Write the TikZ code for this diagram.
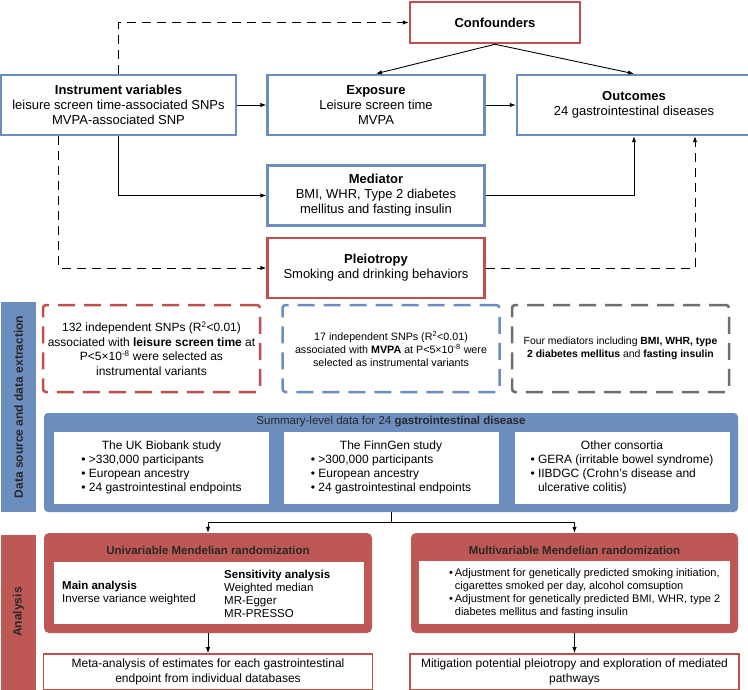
\documentclass[tikz,border=0pt]{standalone}
\usepackage{fontspec}
\setmainfont{Liberation Sans}
\usepackage{xcolor}
\usetikzlibrary{positioning, arrows.meta}
\definecolor{boxblue}{RGB}{108,142,191}
\definecolor{boxred}{RGB}{192,80,77}
\definecolor{boxgray}{RGB}{110,110,110}
\definecolor{panelred}{RGB}{190,88,84}
\definecolor{textdark}{RGB}{40,40,40}

\begin{document}
\begin{tikzpicture}[
    x=1pt, y=-1pt,
    font=\fontsize{13}{15}\selectfont,
    block/.style={draw, line width=2.5pt, fill=white, align=center, inner sep=0pt},
    blueblock/.style={block, draw=boxblue, minimum width=217pt, minimum height=60pt},
    redblock/.style={block, draw=boxred, minimum width=217pt, minimum height=60pt},
    dashbox/.style={draw, line width=2.5pt, dash pattern=on 17pt off 9pt, rounded corners=3pt,
        minimum width=217pt, minimum height=87pt, align=center, inner sep=0pt},
    sidebar/.style={inner sep=0pt, rotate=90, text=textdark, font=\bfseries\fontsize{12}{14}\selectfont},
    studybox/.style={fill=white, minimum width=215pt, minimum height=72pt, inner sep=0pt,
        font=\fontsize{12}{14}\selectfont},
    redpanel/.style={fill=panelred, rounded corners=5pt, minimum width=328pt, minimum height=100pt, inner sep=0pt},
    innerbox/.style={fill=white, minimum width=310pt, minimum height=62pt, inner sep=0pt},
    paneltitle/.style={text=textdark, font=\bfseries\fontsize{11.5}{13}\selectfont},
    inlist/.style={anchor=west, align=left, inner sep=0pt, font=\fontsize{11.5}{13}\selectfont},
    metabox/.style={draw=boxred, line width=1.5pt, fill=white, minimum width=329pt, minimum height=36pt,
        align=center, inner sep=0pt, font=\fontsize{12}{15}\selectfont},
    arrow/.style={-{Latex[length=6pt,width=4.5pt]}, line width=0.9pt},
    dasharrow/.style={arrow, dash pattern=on 9pt off 6pt}
]
\useasboundingbox (0,0) rectangle (748,690);

\node[redblock, minimum width=170pt, minimum height=41pt] (conf) at (495,22.5) {\textbf{Confounders}};
\node[blueblock, minimum width=235pt] (iv) at (118.5,105) {\textbf{Instrument variables}\\leisure screen time-associated SNPs\\MVPA-associated SNP};
\node[blueblock, right=29pt of iv] (expo) {\textbf{Exposure}\\Leisure screen time\\MVPA};
\node[blueblock, minimum width=234pt, right=30pt of expo] (outc) {\textbf{Outcomes}\\24 gastrointestinal diseases};
\node[blueblock, below=28pt of expo] (med) {\textbf{Mediator}\\BMI, WHR, Type 2 diabetes\\mellitus and fasting insulin};
\node[redblock, below=10pt of med] (pleio) {\textbf{Pleiotropy}\\Smoking and drinking behaviors};

\draw[dasharrow] (iv.north) |- (conf.west);
\draw[arrow] (conf.south) -- (expo.north);
\draw[arrow] (conf.south) -- (outc.north);
\draw[arrow] (iv) -- (expo);
\draw[arrow] (expo) -- (outc);
\draw[arrow] (iv.south) |- (med.west);
\draw[arrow] (med.east) -| (outc.south);
\draw[dasharrow] ([xshift=-60pt]iv.south) |- (pleio.west);
\draw[dasharrow] (pleio.east) -| ([xshift=61pt]outc.south);

\node[sidebar, fill=boxblue, minimum width=210pt, minimum height=35pt] (databar) at (18.5,407) {Data source and data extraction};
\node[dashbox, draw=boxred, font=\fontsize{12}{14.5}\selectfont] (lstsnp) at (151.5,348.5)
    {132 independent SNPs (R\textsuperscript{2}<0.01)\\associated with \textbf{leisure screen time} at\\P<5×10\textsuperscript{-8} were selected as\\instrumental variants};
\node[dashbox, draw=boxblue, font=\fontsize{10.7}{13}\selectfont] (mvpasnp) at (391,348.5)
    {17 independent SNPs (R\textsuperscript{2}<0.01)\\associated with \textbf{MVPA} at P<5×10\textsuperscript{-8} were\\selected as instrumental variants};
\node[dashbox, draw=boxgray, font=\fontsize{10.4}{13}\selectfont] (medsel) at (620.5,348.5)
    {Four mediators including \textbf{BMI, WHR, type}\\\textbf{2 diabetes mellitus} and \textbf{fasting insulin}};

\node[fill=boxblue, rounded corners=4pt, minimum width=694pt, minimum height=99pt, inner sep=0pt] (panel) at (391,462.5) {};
\node[text=textdark, font=\fontsize{11.5}{13}\selectfont] (sumtitle) at (391,422) {Summary-level data for 24 \textbf{gastrointestinal disease}};
\node[studybox] (ukb) at (161.5,468) {\begin{tabular}{@{}l@{}}\multicolumn{1}{@{}c@{}}{The UK Biobank study}\\
    \textbullet\ >330,000 participants\\\textbullet\ European ancestry\\\textbullet\ 24 gastrointestinal endpoints\end{tabular}};
\node[studybox] (finngen) at (391,468) {\begin{tabular}{@{}l@{}}\multicolumn{1}{@{}c@{}}{The FinnGen study}\\
    \textbullet\ >300,000 participants\\\textbullet\ European ancestry\\\textbullet\ 24 gastrointestinal endpoints\end{tabular}};
\node[studybox] (other) at (622,468) {\begin{tabular}{@{}l@{}}\multicolumn{1}{@{}c@{}}{Other consortia}\\
    \textbullet\ GERA (irritable bowel syndrome)\\\textbullet\ IIBDGC (Crohn's disease and\\\phantom{\textbullet\ }ulcerative colitis)\end{tabular}};

\node[sidebar, fill=panelred, minimum width=155pt, minimum height=35pt] (anabar) at (18.5,612) {Analysis};
\node[redpanel] (uni) at (208,583) {};
\node[paneltitle] (unititle) at (208,550) {Univariable Mendelian randomization};
\node[innerbox] (uniin) at (208.5,593) {};
\node[inlist] (mainan) at (62,593.5) {\textbf{Main analysis}\\Inverse variance weighted};
\node[inlist] (sensan) at (224,593.5) {\textbf{Sensitivity analysis}\\Weighted median\\MR-Egger\\MR-PRESSO};

\node[redpanel, minimum width=327pt] (multi) at (574.5,583) {};
\node[paneltitle] (multititle) at (574.5,550) {Multivariable Mendelian randomization};
\node[innerbox, minimum width=311pt, minimum height=63pt] (multiin) at (574.5,592.5) {};
\node[inlist, font=\fontsize{11}{12.7}\selectfont] (adjust) at (449,593.5) {\begin{tabular}{@{}l@{\,}l@{}}
    \textbullet & Adjustment for genetically predicted smoking initiation,\\
     & cigarettes smoked per day, alcohol comsuption\\
    \textbullet & Adjustment for genetically predicted BMI, WHR, type 2\\
     & diabetes mellitus and fasting insulin\end{tabular}};

\node[metabox, below=20pt of uni] (metal) {Meta-analysis of estimates for each gastrointestinal\\endpoint from individual databases};
\node[metabox, below=20pt of multi] (metar) {Mitigation potential pleiotropy and exploration of mediated\\pathways};

\draw[line width=0.9pt] (panel.south) -- ++(0,10) coordinate (split);
\draw[arrow] (split) -| (uni.north);
\draw[arrow] (split) -| (multi.north);
\draw[arrow] (uni) -- (metal);
\draw[arrow] (multi) -- (metar);
\end{tikzpicture}
\end{document}
